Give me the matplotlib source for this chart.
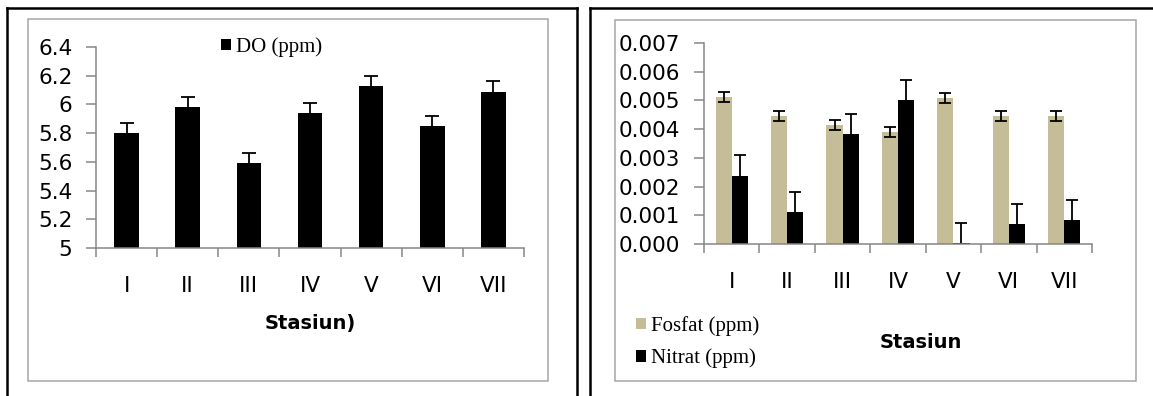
import numpy as np
import matplotlib
matplotlib.use("Agg")
import matplotlib.pyplot as plt
from matplotlib.lines import Line2D
from matplotlib.patches import Rectangle
from matplotlib.ticker import FixedLocator, FuncFormatter

# ---- data ----
stations = ["I", "II", "III", "IV", "V", "VI", "VII"]
do_ppm = [5.80, 5.98, 5.59, 5.94, 6.13, 5.85, 6.09]
do_err = [0.07, 0.07, 0.07, 0.07, 0.07, 0.07, 0.07]
fosfat = [0.00511, 0.00445, 0.00414, 0.00390, 0.00508, 0.00445, 0.00445]
fosfat_err = [0.00017, 0.00017, 0.00017, 0.00017, 0.00017, 0.00017, 0.00017]
nitrat = [0.00238, 0.00111, 0.00382, 0.00500, 0.00005, 0.00069, 0.00084]
nitrat_err = [0.00071, 0.00070, 0.00070, 0.00071, 0.00067, 0.00070, 0.00070]
do_ticks = [5.0, 5.2, 5.4, 5.6, 5.8, 6.0, 6.2, 6.4]
nut_ticks = [0.000, 0.001, 0.002, 0.003, 0.004, 0.005, 0.006, 0.007]

W, H = 1153, 396
fig = plt.figure(figsize=(W / 100, H / 100), dpi=100)

def fx(px):
    return px / W

def fy(py):
    return 1 - py / H

GRAY = "#868686"
TAN = "#C4BD97"
TICKFONT = "DejaVu Sans"
SERIF = "Liberation Serif"
TICKSIZE = 15.5
ERR_KW = dict(elinewidth=1.3, capthick=1.3, ecolor="black")

# ---- frames ----
frame_lw = 1.8
for xs, ys in [([6.5, 6.5], [H, 8]), ([6.5, 577], [8, 8]), ([577, 577], [8, H]),
               ([590, 590], [H, 8]), ([590, W], [8, 8])]:
    fig.add_artist(Line2D([fx(x) for x in xs], [fy(y) for y in ys], color="black",
                          lw=frame_lw, transform=fig.transFigure))
for (x0, y0, x1, y1) in [(27.5, 19.5, 548, 381), (614.5, 20, 1136, 381)]:
    fig.add_artist(Rectangle((fx(x0), fy(y1)), fx(x1) - fx(x0), fy(y0) - fy(y1),
                             fill=False, edgecolor="#A6A6A6", lw=1.1,
                             transform=fig.transFigure))

def make_axes(l, r, t, b):
    return fig.add_axes([fx(l), fy(b), fx(r) - fx(l), fy(t) - fy(b)])

def style_axes(ax, fmt):
    for s in ["top", "right"]:
        ax.spines[s].set_visible(False)
    for s in ["left", "bottom"]:
        ax.spines[s].set_color(GRAY)
        ax.spines[s].set_linewidth(1.1)
    ax.set_xlim(-0.5, len(stations) - 0.5)
    ax.set_xticks(range(len(stations)))
    ax.set_xticklabels(stations, fontfamily=TICKFONT, fontsize=TICKSIZE)
    ax.xaxis.set_minor_locator(FixedLocator(np.arange(-0.5, len(stations), 1.0)))
    ax.tick_params(axis="x", which="major", length=0, pad=20)
    ax.tick_params(axis="x", which="minor", length=6.5, width=1.1, color=GRAY, direction="out")
    ax.tick_params(axis="y", length=7, width=1.1, color=GRAY, direction="out", pad=10,
                   labelsize=TICKSIZE)
    ax.yaxis.set_major_formatter(FuncFormatter(fmt))
    for lab in ax.get_yticklabels():
        lab.set_fontfamily(TICKFONT)
    ax.set_facecolor("none")

def hide_lower_caps(container, base):
    # only an upper error bar is shown: hide the cap drawn at the bar top
    caplines = container.errorbar.lines[1]
    for cl in caplines:
        if np.allclose(cl.get_ydata(), base):
            cl.set_visible(False)

x = np.arange(len(stations))

# ---- left chart: DO ----
ax1 = make_axes(96, 524, 47, 248)
b1 = ax1.bar(x, do_ppm, width=0.4, color="black", label="DO (ppm)",
             yerr=[np.zeros(len(do_err)), do_err], capsize=4.7, error_kw=ERR_KW)
hide_lower_caps(b1, do_ppm)
ax1.set_ylim(5.0, 6.4)
ax1.set_yticks(do_ticks)
style_axes(ax1, lambda v, p: f"{v:g}")
ax1.legend(handles=[b1], loc="center left", bbox_to_anchor=(fx(221), fy(47)),
           bbox_transform=fig.transFigure, frameon=False, borderpad=0, borderaxespad=0,
           handlelength=0.5, handleheight=0.5, handletextpad=0.2,
           prop=dict(family=SERIF, size=15))
fig.text(fx(310), fy(323), "Stasiun)", ha="center", va="center",
         fontfamily=TICKFONT, fontweight="bold", fontsize=14)

# ---- right chart: Fosfat & Nitrat ----
ax2 = make_axes(704, 1092, 43, 244)
bw = 0.29
b2 = ax2.bar(x - bw / 2, fosfat, width=bw, color=TAN, label="Fosfat (ppm)",
             yerr=fosfat_err, capsize=4.5, error_kw=ERR_KW)
b3 = ax2.bar(x + bw / 2, nitrat, width=bw, color="black", label="Nitrat (ppm)",
             yerr=[np.zeros(len(nitrat_err)), nitrat_err], capsize=4.5, error_kw=ERR_KW)
hide_lower_caps(b3, nitrat)
ax2.set_ylim(0, 0.007)
ax2.set_yticks(nut_ticks)
style_axes(ax2, lambda v, p: f"{v:.3f}")
ax2.legend(handles=[b2, b3], loc="center left", bbox_to_anchor=(fx(636), fy(342)),
           bbox_transform=fig.transFigure, frameon=False, borderpad=0, borderaxespad=0,
           handlelength=0.5, handleheight=0.5, handletextpad=0.2, labelspacing=0.6,
           prop=dict(family=SERIF, size=15))
fig.text(fx(921), fy(343), "Stasiun", ha="center", va="center",
         fontfamily=TICKFONT, fontweight="bold", fontsize=14)

fig.savefig("out.png", dpi=100)
